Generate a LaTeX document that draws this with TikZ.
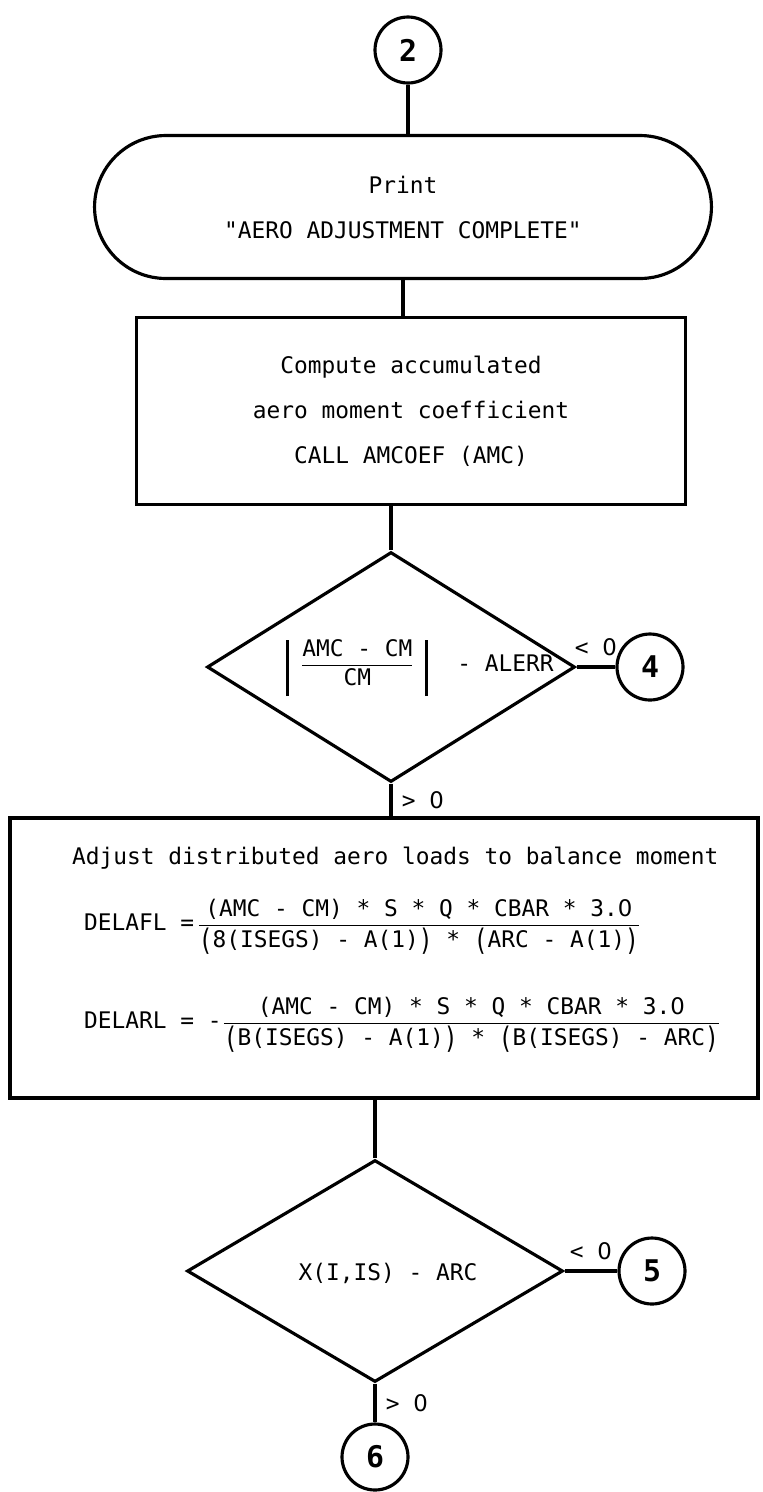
\documentclass[tikz,border=0pt]{standalone}
\usepackage{fontspec}
\setmainfont{DejaVu Sans Mono}
\setmonofont{DejaVu Sans Mono}
\newfontfamily\zerofont{DejaVu Sans}
\usepackage{graphicx}
\usepackage{tikz}
\usetikzlibrary{shapes.geometric,shapes.misc}
\newcommand{\flowsize}{\fontsize{13}{25.6}\selectfont}
\newcommand{\zro}{{\zerofont 0}}
\newcommand{\bigpar}[1]{\raisebox{-0.12em}{\scalebox{1}[1.3]{#1}}}
\newcommand{\absbar}{\rule[-0.5cm]{1.6pt}{1.12cm}}
\tikzset{
  flowline/.style={line width=1.8pt},
  procbox/.style={draw, line width=1.8pt, rectangle, inner sep=0pt, align=center},
  testbox/.style={draw, line width=1.8pt, diamond, inner sep=0pt},
  termbox/.style={draw, line width=1.8pt, rounded rectangle, inner sep=0pt, align=center},
  onpage/.style={draw, line width=1.8pt, circle, inner sep=0pt, minimum size=1.32cm, font=\fontsize{17}{20}\selectfont\bfseries}
}

\begin{document}
\begin{tikzpicture}[x=0.02cm, y=-0.02cm, font=\flowsize]
\useasboundingbox (0,0) rectangle (762,1492);
\node[onpage] (c2) at (408,50) {2};
\node[termbox, minimum width=12.34cm, minimum height=2.86cm] (prt) at (403,207) {Print\\\textquotedbl AERO ADJUSTMENT COMPLETE\textquotedbl};
\node[procbox, minimum width=10.98cm, minimum height=3.74cm] (amc) at (411,411) {Compute accumulated\\aero moment coefficient\\CALL AMCOEF (AMC)};
\node[testbox, minimum width=7.36cm, minimum height=4.6cm] (tst1) at (391,667) {};
\node (tst1txt) at (420,668) {\absbar\hspace{0.22cm}$\displaystyle\frac{\texttt{AMC - CM}}{\texttt{CM}}$\hspace{0.22cm}\absbar\hspace{0.58cm}- ALERR};
\node[onpage] (c4) at (650,667) {4};
\node[procbox, minimum width=14.96cm, minimum height=5.6cm] (adj) at (384,958) {};
\node[anchor=west] (adjtxt) at (66,858) {Adjust distributed aero loads to balance moment};
\node[anchor=west] (dafl) at (78,927) {DELAFL =\hspace{0.05cm}$\displaystyle\frac{\texttt{(AMC - CM) * S * Q * CBAR * 3.\zro}}{\texttt{\bigpar{(}8(ISEGS) - A(1)\bigpar{)} * \bigpar{(}ARC - A(1)\bigpar{)}}}$};
\node[anchor=west] (darl) at (78,1025) {DELARL = -$\displaystyle\frac{\texttt{(AMC - CM) * S * Q * CBAR * 3.\zro}}{\texttt{\bigpar{(}B(ISEGS) - A(1)\bigpar{)} * \bigpar{(}B(ISEGS) - ARC\bigpar{)}}}$};
\node[testbox, minimum width=7.52cm, minimum height=4.44cm] (tst2) at (375,1271) {};
\node (tst2txt) at (388,1273) {X(I,IS) - ARC};
\node[onpage] (c5) at (652,1271) {5};
\node[onpage] (c6) at (375,1457) {6};
\draw[flowline] (c2.south) -- (c2.south |- prt.north);
\draw[flowline] (prt.south) -- (prt.south |- amc.north);
\draw[flowline] (tst1.north |- amc.south) -- (tst1.north);
\draw[flowline] (tst1.east) -- node[above=2pt] {< \zro} (c4.west);
\draw[flowline] (tst1.south) -- node[right=2pt] {> \zro} (tst1.south |- adj.north);
\draw[flowline] (tst2.north |- adj.south) -- (tst2.north);
\draw[flowline] (tst2.east) -- node[above=2pt] {< \zro} (c5.west);
\draw[flowline] (tst2.south) -- node[right=2pt] {> \zro} (c6.north);
\end{tikzpicture}
\end{document}
